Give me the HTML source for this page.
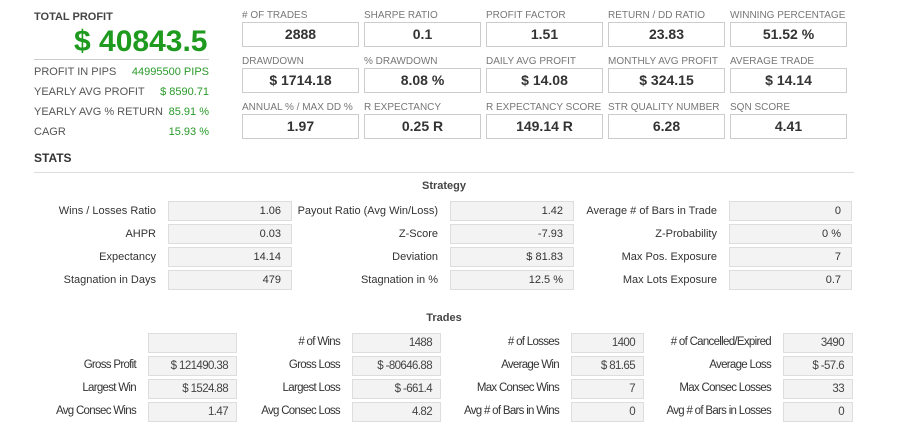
<!DOCTYPE html>
<html><head><meta charset="utf-8"><style>
body{margin:0;width:908px;height:437px;background:#fff;position:relative;overflow:hidden;font-family:"Liberation Sans",sans-serif;color:#333}
.a{position:absolute;white-space:nowrap}
.kl{font-size:10px;color:#777}
.kb{border:1px solid #ccc;box-sizing:border-box;width:117px;height:25px;text-align:center;font-size:14px;font-weight:bold;line-height:23px;color:#333}
.lr{font-size:11px;color:#555}
.lv{font-size:11px;color:#2a9a2a;text-align:right}
.sl{font-size:11px;color:#333;text-align:right}
.sb{background:#f3f3f3;border:1px solid #ddd;box-sizing:border-box;height:20px;line-height:18px;font-size:11px;text-align:right;padding-right:10px;color:#333}
.tl{font-size:11.5px;letter-spacing:-0.7px;color:#333;text-align:right}
</style></head><body>
<div class="a" style="left:34px;top:11px;font-size:11px;font-weight:bold;color:#444">TOTAL PROFIT</div>
<div class="a" style="left:74px;top:25px;font-size:30px;font-weight:bold;color:#1e9a1e">$ 40843.5</div>
<div class="a" style="left:34px;top:59px;width:175px;height:1px;background:#ccc"></div>
<div class="a" style="left:34px;top:151px;font-size:12px;font-weight:bold;color:#333">STATS</div>
<div class="a" style="left:34px;top:172px;width:820px;height:1px;background:#ddd"></div>
<div class="a" style="left:394px;top:180px;width:100px;text-align:center;font-size:11px;font-weight:bold;color:#444">Strategy</div>
<div class="a" style="left:394px;top:312px;width:100px;text-align:center;font-size:11px;font-weight:bold;color:#444">Trades</div>
<div id="root"></div>
<script>
const root=document.getElementById('root');
function mk(cls,style,text){const d=document.createElement('div');d.className='a '+cls;d.style.cssText=style;d.textContent=text;root.appendChild(d);return d;}
const leftLabels=['PROFIT IN PIPS','YEARLY AVG PROFIT','YEARLY AVG % RETURN','CAGR'];
const leftValues=['44995500 PIPS','$ 8590.71','85.91 %','15.93 %'];
leftLabels.forEach((l,i)=>{
 const a=mk('lr','left:34px;top:'+(66+i*20)+'px',l);
 
 
 const b=mk('lv','left:110px;width:99px;top:'+(66+i*20)+'px',leftValues[i]);
 
 
});
const kpiLabels=['# OF TRADES','SHARPE RATIO','PROFIT FACTOR','RETURN / DD RATIO','WINNING PERCENTAGE','DRAWDOWN','% DRAWDOWN','DAILY AVG PROFIT','MONTHLY AVG PROFIT','AVERAGE TRADE','ANNUAL % / MAX DD %','R EXPECTANCY','R EXPECTANCY SCORE','STR QUALITY NUMBER','SQN SCORE'];
const kpiValues=['2888','0.1','1.51','23.83','51.52 %','$ 1714.18','8.08 %','$ 14.08','$ 324.15','$ 14.14','1.97','0.25 R','149.14 R','6.28','4.41'];
kpiLabels.forEach((l,i)=>{
 const x=242+(i%5)*122, y=10+Math.floor(i/5)*46;
 const a=mk('kl','left:'+x+'px;top:'+y+'px',l);
 
 
 const b=mk('kb','left:'+x+'px;top:'+(y+12)+'px',kpiValues[i]);
 
 
});
const stratLabels=['Wins / Losses Ratio','Payout Ratio (Avg Win/Loss)','Average # of Bars in Trade','AHPR','Z-Score','Z-Probability','Expectancy','Deviation','Max Pos. Exposure','Stagnation in Days','Stagnation in %','Max Lots Exposure'];
const stratValues=['1.06','1.42','0','0.03','-7.93','0 %','14.14','$ 81.83','7','479','12.5 %','0.7'];
const sCols=[[156,168,124],[438,450,124],[717,729,123]];
stratLabels.forEach((l,i)=>{
 const c=sCols[i%3], y=201+Math.floor(i/3)*23;
 const a=mk('sl','left:'+(c[0]-200)+'px;width:200px;top:'+(y+4)+'px',l);
 
 
 const b=mk('sb','left:'+c[1]+'px;width:'+c[2]+'px;top:'+y+'px',stratValues[i]);
 
 
});
const tradeLabels=['','# of Wins','# of Losses','# of Cancelled/Expired','Gross Profit','Gross Loss','Average Win','Average Loss','Largest Win','Largest Loss','Max Consec Wins','Max Consec Losses','Avg Consec Wins','Avg Consec Loss','Avg # of Bars in Wins','Avg # of Bars in Losses'];
const tradeValues=['','1488','1400','3490','$ 121490.38','$ -80646.88','$ 81.65','$ -57.6','$ 1524.88','$ -661.4','7','33','1.47','4.82','0','0'];
const tCols=[[136,148,89],[340,352,89],[559,571,73],[771,783,70]];
tradeLabels.forEach((l,i)=>{
 const c=tCols[i%4], y=333+Math.floor(i/4)*23;
 const a=mk('tl','left:'+(c[0]-200)+'px;width:200px;top:'+(y+3)+'px',l);
 
 
 const b=mk('sb','left:'+c[1]+'px;width:'+c[2]+'px;top:'+y+'px;letter-spacing:-0.6px;font-size:11.5px;padding-right:8px;color:#444',tradeValues[i]);
 
 
});
</script>
</body></html>
